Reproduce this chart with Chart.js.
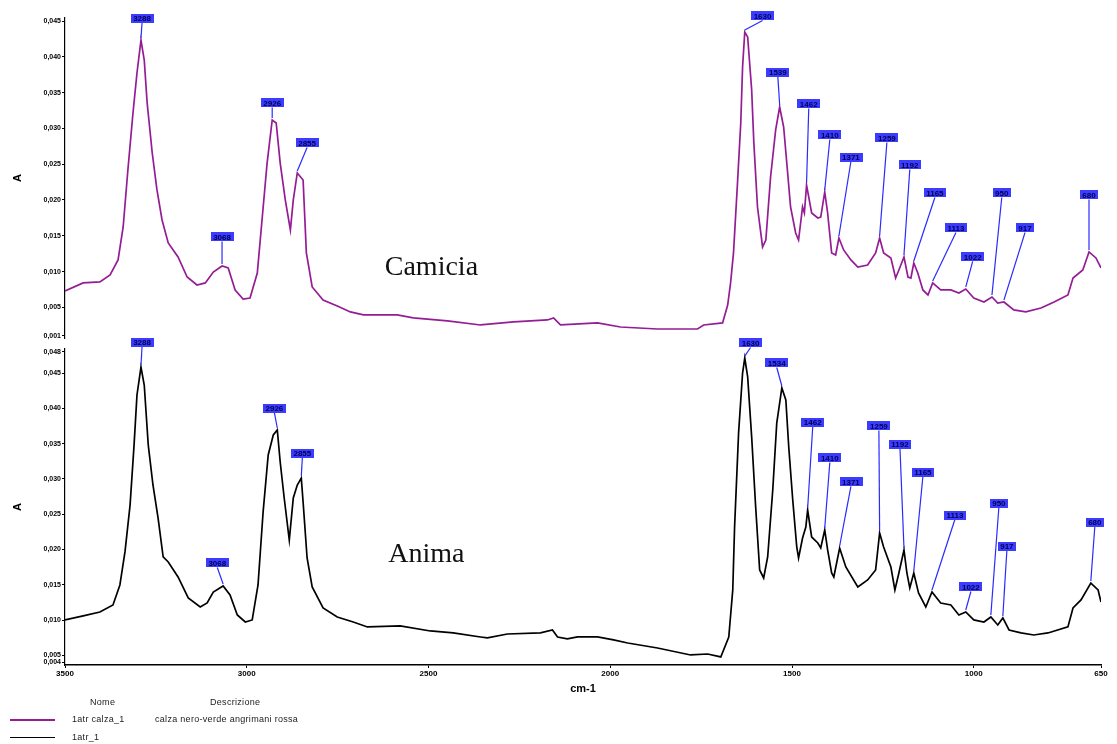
<!DOCTYPE html>
<html>
<head>
<meta charset="utf-8">
<script src="https://cdn.jsdelivr.net/npm/chart.js@4/dist/chart.umd.min.js"></script>
<style>
  html,body{margin:0;padding:0;background:#fff;}
  #wrap{position:relative;width:1117px;height:744px;overflow:hidden;font-family:"Liberation Sans",Arial,sans-serif;}
  .lg{position:absolute;font-size:9px;color:#222;letter-spacing:0.3px;white-space:nowrap;}
  .sw{position:absolute;left:10px;width:45px;height:0;}
</style>
</head>
<body>
<div id="wrap">
  <canvas id="c1" width="1117" height="345" style="position:absolute;left:0;top:0;"></canvas>
  <canvas id="c2" width="1117" height="370" style="position:absolute;left:0;top:330px;"></canvas>
  <div class="lg" style="left:90px;top:697px;">Nome</div>
  <div class="lg" style="left:210px;top:697px;">Descrizione</div>
  <div class="sw" style="top:719px;border-top:2px solid #941c94;"></div>
  <div class="lg" style="left:72px;top:714px;">1atr calza_1</div>
  <div class="lg" style="left:155px;top:714px;">calza nero-verde angrimani rossa</div>
  <div class="sw" style="top:737px;border-top:1.5px solid #000;"></div>
  <div class="lg" style="left:72px;top:732px;">1atr_1</div>
</div>
<script>
// ---- Data: wavenumbers (cm-1) and absorbance ----
const topWn = [3500,3450,3404,3376,3354,3340,3327,3313,3302,3291,3282,3274,3260,3247,3233,3216,3189,3164,3137,3114,3092,3068,3051,3032,3010,2991,2971,2958,2944,2930,2919,2908,2894,2880,2872,2861,2845,2836,2820,2790,2751,2715,2679,2586,2542,2448,2357,2266,2173,2156,2137,2035,1972,1870,1760,1743,1691,1677,1669,1661,1650,1641,1636,1630,1622,1611,1605,1595,1581,1572,1559,1545,1534,1523,1512,1504,1490,1482,1471,1466,1460,1446,1429,1421,1410,1402,1391,1380,1371,1358,1338,1319,1292,1270,1259,1248,1228,1215,1206,1192,1181,1173,1165,1154,1140,1126,1113,1091,1063,1041,1022,1000,972,950,934,917,890,857,815,779,741,727,700,683,664,650];
const topAbs = [0.00729,0.00841,0.00855,0.00952,0.01162,0.01623,0.02419,0.03215,0.03774,0.04234,0.03955,0.03355,0.02656,0.02140,0.01721,0.01399,0.01204,0.00924,0.00813,0.00841,0.00994,0.01078,0.01050,0.00743,0.00617,0.00631,0.00980,0.01721,0.02516,0.03117,0.03075,0.02516,0.02000,0.01581,0.02000,0.02377,0.02279,0.01260,0.00785,0.00603,0.00519,0.00436,0.00394,0.00394,0.00352,0.00310,0.00254,0.00296,0.00324,0.00352,0.00254,0.00282,0.00226,0.00198,0.00198,0.00254,0.00282,0.00533,0.00841,0.01260,0.02237,0.03075,0.03857,0.04346,0.04276,0.03536,0.02796,0.01902,0.01344,0.01441,0.02321,0.02978,0.03299,0.03019,0.02377,0.01902,0.01539,0.01441,0.01902,0.01818,0.02209,0.01818,0.01748,0.01762,0.02112,0.01818,0.01260,0.01232,0.01469,0.01302,0.01162,0.01064,0.01092,0.01260,0.01469,0.01260,0.01190,0.00910,0.01022,0.01204,0.00924,0.00910,0.01120,0.00980,0.00743,0.00673,0.00841,0.00743,0.00743,0.00701,0.00757,0.00631,0.00575,0.00645,0.00561,0.00575,0.00464,0.00436,0.00491,0.00575,0.00673,0.00910,0.01022,0.01274,0.01190,0.01050];

const botWn = [3500,3450,3404,3368,3349,3335,3321,3310,3302,3291,3282,3271,3258,3244,3230,3216,3189,3161,3128,3109,3092,3065,3046,3026,3004,2985,2969,2955,2941,2927,2916,2908,2897,2883,2872,2861,2850,2845,2834,2820,2790,2751,2707,2668,2578,2495,2432,2357,2338,2283,2192,2159,2145,2118,2090,2035,1991,1952,1870,1779,1732,1696,1674,1663,1658,1647,1636,1630,1622,1611,1600,1589,1578,1567,1553,1542,1528,1517,1509,1498,1487,1482,1471,1462,1457,1446,1429,1421,1410,1402,1391,1385,1369,1352,1319,1292,1270,1259,1248,1228,1217,1206,1192,1184,1176,1165,1152,1132,1115,1091,1063,1041,1022,1000,972,953,934,920,903,870,835,796,741,727,705,678,658,650];
const botAbs = [0.01003,0.01060,0.01116,0.01215,0.01498,0.01966,0.02630,0.03481,0.04189,0.04585,0.04330,0.03481,0.02914,0.02447,0.01895,0.01824,0.01612,0.01314,0.01187,0.01243,0.01399,0.01484,0.01357,0.01074,0.00974,0.01003,0.01498,0.02531,0.03339,0.03622,0.03693,0.03240,0.02730,0.02135,0.02730,0.02914,0.03013,0.02673,0.01881,0.01470,0.01173,0.01045,0.00974,0.00904,0.00918,0.00847,0.00819,0.00762,0.00748,0.00804,0.00819,0.00861,0.00762,0.00734,0.00762,0.00762,0.00720,0.00677,0.00606,0.00507,0.00521,0.00479,0.00762,0.01428,0.02319,0.03651,0.04500,0.04712,0.04444,0.03594,0.02602,0.01711,0.01597,0.01895,0.02843,0.03792,0.04288,0.04118,0.03452,0.02702,0.02036,0.01881,0.02164,0.02319,0.02560,0.02178,0.02093,0.02022,0.02277,0.01994,0.01668,0.01612,0.02022,0.01753,0.01470,0.01569,0.01711,0.02234,0.02036,0.01753,0.01428,0.01668,0.01994,0.01668,0.01456,0.01668,0.01385,0.01187,0.01399,0.01243,0.01215,0.01074,0.01116,0.01003,0.00974,0.01045,0.00932,0.01031,0.00861,0.00819,0.00790,0.00819,0.00904,0.01173,0.01286,0.01526,0.01428,0.01257];

// ---- Peak annotations ----
const topPeakLabel = ["3288","3068","2926","2855","1630","1539","1462","1410","1371","1259","1192","1165","1113","1022","950","917","680"];
const topPeakWn    = [3291,3068,2930,2861,1630,1534,1460,1410,1371,1259,1192,1165,1113,1022,950,917,683];
const topLabelWn   = [3288,3068,2930,2834,1581,1539,1454,1396,1338,1239,1176,1107,1049,1003,923,859,683];
const topLabelAbs  = [0.04542,0.01483,0.03355,0.02796,0.04570,0.03787,0.03341,0.02908,0.02600,0.02866,0.02489,0.02098,0.01609,0.01204,0.02098,0.01609,0.02070];

const botPeakLabel = ["3288","3068","2926","2855","1630","1534","1462","1410","1371","1259","1192","1165","1113","1022","950","917","680"];
const botPeakWn    = [3291,3065,2916,2850,1630,1528,1457,1410,1369,1259,1192,1165,1115,1022,953,920,678];
const botLabelWn   = [3288,3081,2924,2847,1614,1542,1443,1396,1338,1261,1203,1140,1052,1008,931,909,667];
const botLabelAbs  = [0.04939,0.01810,0.04004,0.03367,0.04925,0.04642,0.03806,0.03297,0.02957,0.03750,0.03494,0.03098,0.02489,0.01470,0.02659,0.02050,0.02390];

// ---- Axis ticks ----
const xTicks = [3500,3000,2500,2000,1500,1000,650];
const topYTicks = [0.001,0.005,0.010,0.015,0.020,0.025,0.030,0.035,0.040,0.045];
const botYTicks = [0.004,0.005,0.010,0.015,0.020,0.025,0.030,0.035,0.040,0.045,0.048];

const fmt = v => v.toFixed(3).replace('.', ',');

function peakPlugin(id, wn, abs, labels, peakWn, labWn, labAbs, panelText, panelWn, panelAbs) {
  return {
    id: id,
    afterDraw(chart) {
      const ctx = chart.ctx, xs = chart.scales.x, ys = chart.scales.y;
      ctx.save();
      ctx.font = '28px "Liberation Serif", "Times New Roman", serif';
      ctx.fillStyle = '#111';
      ctx.textAlign = 'center';
      ctx.textBaseline = 'middle';
      ctx.fillText(panelText, xs.getPixelForValue(panelWn), ys.getPixelForValue(panelAbs));
      ctx.font = 'bold 8px "Liberation Sans", Arial, sans-serif';
      for (let i = 0; i < labels.length; i++) {
        let k = 0, best = 1e9;
        for (let j = 0; j < wn.length; j++) {
          const d = Math.abs(wn[j] - peakWn[i]);
          if (d < best) { best = d; k = j; }
        }
        const px = xs.getPixelForValue(wn[k]), py = ys.getPixelForValue(abs[k]) - 2;
        const lx = xs.getPixelForValue(labWn[i]), ly = ys.getPixelForValue(labAbs[i]);
        const w = ctx.measureText(labels[i]).width + 5, h = 9;
        ctx.strokeStyle = '#2a2aff';
        ctx.lineWidth = 1.2;
        ctx.beginPath();
        ctx.moveTo(lx, ly + h / 2);
        ctx.lineTo(px, py);
        ctx.stroke();
        ctx.fillStyle = '#3c3cff';
        ctx.fillRect(Math.round(lx - w / 2), Math.round(ly - h / 2), Math.round(w), h);
        ctx.fillStyle = '#000050';
        ctx.fillText(labels[i], lx, ly + 0.5);
      }
      ctx.restore();
    }
  };
}

function yScale(min, max, ticks, showTitle) {
  return {
    type: 'linear', position: 'left', min: min, max: max,
    afterBuildTicks: s => { s.ticks = ticks.map(v => ({ value: v })); },
    afterFit: s => { s.width = 65; },
    ticks: { callback: v => fmt(v), color: '#000', padding: 1, autoSkip: false,
             font: { family: '"Liberation Sans", Arial, sans-serif', size: 7, weight: 'bold' } },
    grid: { display: true, drawOnChartArea: false, drawTicks: true, tickLength: 3, color: '#000' },
    border: { display: true, color: '#000', width: 1.2 },
    title: { display: showTitle, text: 'A', color: '#000', padding: { top: 11, bottom: 0 },
             font: { family: '"Liberation Sans", Arial, sans-serif', size: 11, weight: 'bold' } }
  };
}

Chart.defaults.animation = false;

new Chart(document.getElementById('c1'), {
  type: 'line',
  data: {
    datasets: [{
      label: '1atr calza_1',
      data: topWn.map((w, i) => ({ x: w, y: topAbs[i] })),
      borderColor: '#941c94', borderWidth: 1.7, pointRadius: 0, tension: 0, fill: false
    }]
  },
  options: {
    responsive: false, devicePixelRatio: 1,
    layout: { padding: { left: 0, right: 16, top: 18, bottom: 7 } },
    plugins: { legend: { display: false }, tooltip: { enabled: false } },
    scales: {
      x: { type: 'linear', reverse: true, min: 650, max: 3500, display: false },
      y: yScale(0.00072, 0.04542, topYTicks, true)
    }
  },
  plugins: [peakPlugin('pk1', topWn, topAbs, topPeakLabel, topPeakWn, topLabelWn, topLabelAbs, 'Camicia', 2492, 0.0105)]
});

new Chart(document.getElementById('c2'), {
  type: 'line',
  data: {
    datasets: [{
      label: '1atr_1',
      data: botWn.map((w, i) => ({ x: w, y: botAbs[i] })),
      borderColor: '#000', borderWidth: 1.7, pointRadius: 0, tension: 0, fill: false
    }]
  },
  options: {
    responsive: false, devicePixelRatio: 1,
    layout: { padding: { left: 0, right: 16, top: 19, bottom: 0 } },
    plugins: { legend: { display: false }, tooltip: { enabled: false } },
    scales: {
      x: {
        type: 'linear', reverse: true, min: 650, max: 3500,
        afterBuildTicks: s => { s.ticks = xTicks.map(v => ({ value: v })); },
        afterFit: s => { s.height = 35; },
        ticks: { callback: v => String(v), color: '#000', padding: 1, autoSkip: false, maxRotation: 0,
                 font: { family: '"Liberation Sans", Arial, sans-serif', size: 8, weight: 'bold' } },
        grid: { display: true, drawOnChartArea: false, drawTicks: true, tickLength: 3, color: '#000' },
        border: { display: true, color: '#000', width: 1.6 },
        title: { display: true, text: 'cm-1', color: '#000', padding: { top: 0, bottom: 4 },
                 font: { family: '"Liberation Sans", Arial, sans-serif', size: 11, weight: 'bold' } }
      },
      y: yScale(0.00365, 0.04840, botYTicks, true)
    }
  },
  plugins: [peakPlugin('pk2', botWn, botAbs, botPeakLabel, botPeakWn, botLabelWn, botLabelAbs, 'Anima', 2506, 0.01923)]
});
</script>
</body>
</html>
